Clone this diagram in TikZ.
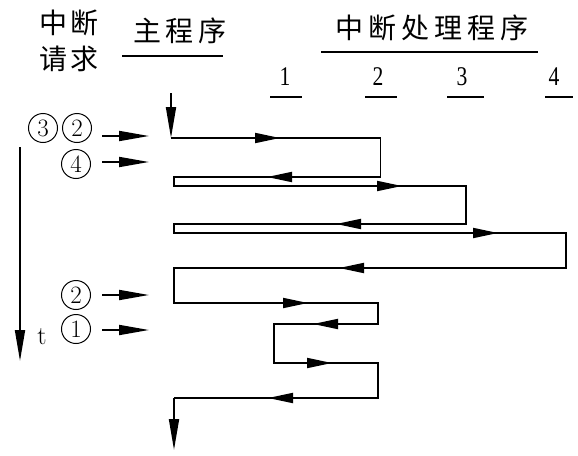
\documentclass[tikz,border=0pt]{standalone}
\usepackage{fontspec}
\newfontfamily\cjk{Noto Sans CJK SC}
\newfontfamily\numfont{Liberation Serif}
\usetikzlibrary{arrows.meta}
\tikzset{
  flow/.style={line width=1.8pt, line join=miter},
  midarr/.style={line width=1.8pt, -{Triangle[length=25pt,width=10pt]}},
  reqarr/.style={line width=1.8pt, -{Triangle[length=30pt,width=10pt]}},
  endarr/.style={line width=1.8pt, -{Triangle[length=31pt,width=10pt]}},
  rule/.style={line width=2pt},
  cjklabel/.style={font=\cjk\fontsize{28}{28}\selectfont, inner sep=0pt},
  numlabel/.style={font=\numfont\fontsize{27}{27}\selectfont, inner sep=0pt, xscale=0.8},
  circnum/.style={circle, draw, line width=1pt, minimum size=29pt, inner sep=0pt, font=\fontsize{25}{25}\selectfont},
}
\begin{document}
\begin{tikzpicture}[x=1pt,y=-1pt]
\useasboundingbox (0,0) rectangle (578,455);
% headings
\node[cjklabel] (req1) at (69,23) {中\kern4pt 断};
\node[cjklabel] (req2) at (69,59) {请\kern4pt 求};
\node[cjklabel] (main) at (180,31) {主\kern5pt 程\kern5pt 序};
\coordinate (mainL) at (122,56); \coordinate (mainR) at (223,56);
\draw[rule] (mainL) -- (mainR);
\node[cjklabel] (isr) at (432,28) {中\kern5pt 断\kern5pt 处\kern5pt 理\kern5pt 程\kern5pt 序};
\coordinate (isrL) at (321,52); \coordinate (isrR) at (538,52);
\draw[rule] (isrL) -- (isrR);
% level numbers
\node[numlabel] (n1) at (285,77) {1};
\node[numlabel] (n2) at (378,77) {2};
\node[numlabel] (n3) at (462,77) {3};
\node[numlabel] (n4) at (554,77) {4};
\coordinate (u1a) at (270,97); \coordinate (u1b) at (302,97);
\coordinate (u2a) at (365,97); \coordinate (u2b) at (397,97);
\coordinate (u3a) at (447,97); \coordinate (u3b) at (484,97);
\coordinate (u4a) at (545,97); \coordinate (u4b) at (573,97);
\draw[rule] (u1a) -- (u1b);
\draw[rule] (u2a) -- (u2b);
\draw[rule] (u3a) -- (u3b);
\draw[rule] (u4a) -- (u4b);
% interrupt requests
\node[circnum] (c3) at (43,128) {3};
\node[circnum] (c2a) at (77,128) {2};
\node[circnum] (c4) at (76,164) {4};
\node[circnum] (c2b) at (76,295) {2};
\node[circnum] (c1) at (76,329) {1};
\coordinate (r1a) at (102,136); \coordinate (r1b) at (149,136);
\coordinate (r2a) at (102,162); \coordinate (r2b) at (149,162);
\coordinate (r3a) at (102,295); \coordinate (r3b) at (149,295);
\coordinate (r4a) at (102,330); \coordinate (r4b) at (149,330);
\draw[reqarr] (r1a) -- (r1b);
\draw[reqarr] (r2a) -- (r2b);
\draw[reqarr] (r3a) -- (r3b);
\draw[reqarr] (r4a) -- (r4b);
% time axis
\coordinate (ta) at (20,147); \coordinate (tb) at (20,361);
\draw[endarr] (ta) -- (tb);
\node[font=\fontsize{26}{26}\selectfont, inner sep=0pt] (t) at (42,337) {t};
% program flow
\coordinate (s0) at (171,93);
\coordinate (s1) at (171,138);
\draw[endarr] (s0) -- (s1);
\coordinate (p1) at (380.5,138);
\coordinate (p2) at (380.5,177);
\coordinate (p3) at (174,177);
\coordinate (p4) at (174,186);
\coordinate (p5) at (466,186);
\coordinate (p6) at (466,224);
\coordinate (p7) at (174,224);
\coordinate (p8) at (174,233);
\coordinate (p9) at (566,233);
\coordinate (p10) at (566,268);
\coordinate (p11) at (174,268);
\coordinate (p12) at (174,303);
\coordinate (p13) at (378,303);
\coordinate (p14) at (378,324);
\coordinate (p15) at (274,324);
\coordinate (p16) at (274,363);
\coordinate (p17) at (378,363);
\coordinate (p18) at (378,398);
\coordinate (p19) at (174,398);
\coordinate (p20) at (174,450);
\draw[flow] (s1) -- (p1) -- (p2) -- (p3) -- (p4) -- (p5) -- (p6) -- (p7) -- (p8) -- (p9) -- (p10) -- (p11) -- (p12) -- (p13) -- (p14) -- (p15) -- (p16) -- (p17) -- (p18) -- (p19);
\draw[endarr] (p19) -- (p20);
% direction marks on flow
\draw[midarr] (255,138) -- (280,138);
\draw[midarr] (292,177) -- (267,177);
\draw[midarr] (377,186) -- (402,186);
\draw[midarr] (361,224) -- (336,224);
\draw[midarr] (473,233) -- (498,233);
\draw[midarr] (364,268) -- (339,268);
\draw[midarr] (283,303) -- (308,303);
\draw[midarr] (338,324) -- (313,324);
\draw[midarr] (307,363) -- (332,363);
\draw[midarr] (293,398) -- (268,398);
\end{tikzpicture}
\end{document}
